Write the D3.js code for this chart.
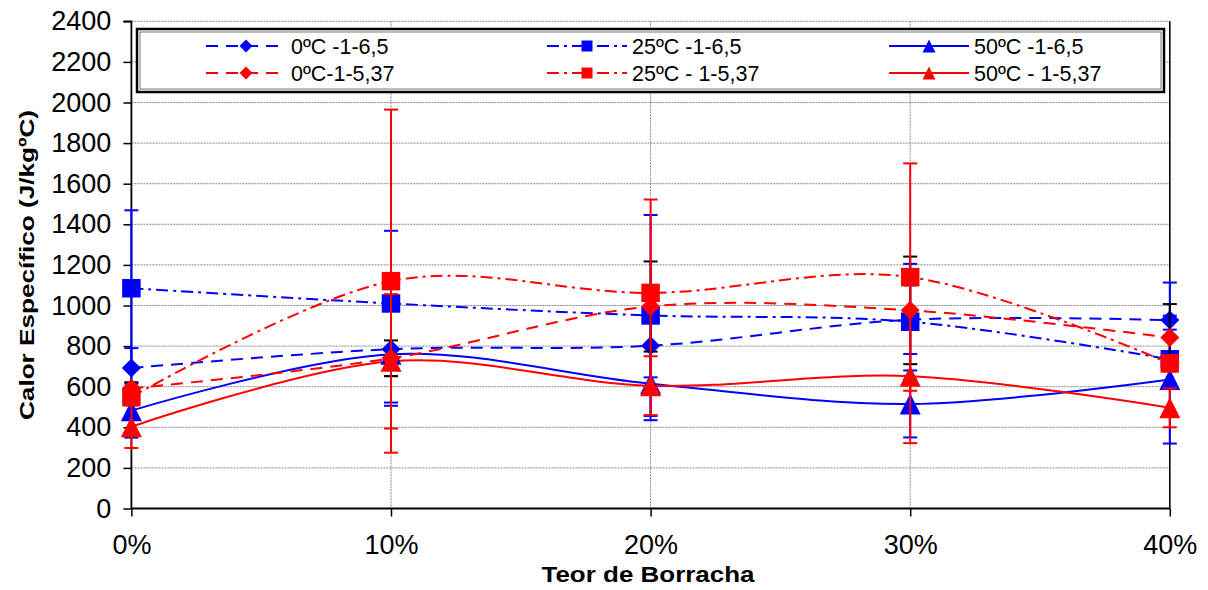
<!DOCTYPE html>
<html>
<head>
<meta charset="utf-8">
<script src="https://cdn.jsdelivr.net/npm/d3@7"></script>
<style>
  html, body { margin: 0; padding: 0; background: #fff; }
  svg { display: block; font-family: "Liberation Sans", Arial, sans-serif; }
</style>
</head>
<body>
<svg id="chart" width="1208" height="590"></svg>
<script>
// Rubber content (x axis) and tick labels
const categories = ["0%", "10%", "20%", "30%", "40%"];
const rubberContent = [0, 10, 20, 30, 40];
const yTickValues = [0, 200, 400, 600, 800, 1000, 1200, 1400, 1600, 1800, 2000, 2200, 2400];

// Specific heat (J/kgºC), mean values per series
const cp_0C_65   = [692, 785, 802, 930, 928];
const cp_25C_65  = [1085, 1010, 951, 920, 735];
const cp_50C_65  = [482, 760, 615, 515, 635];
const cp_0C_537  = [592, 740, 995, 976, 842];
const cp_25C_537 = [549, 1120, 1062, 1140, 715];
const cp_50C_537 = [403, 725, 605, 652, 496];

// Error bar half-lengths (±) per series
const err_0C_65   = [98, 263, 156, 169, 185];
const err_25C_65  = [384, 358, 495, 285, 146];
const err_50C_65  = [133, 254, 180, 165, 315];
const err_0C_537  = [30, 88, 222, 265, 165];
const err_25C_537 = [40, 845, 460, 560, 40];
const err_50C_537 = [105, 331, 145, 330, 96];

const seriesNames = ["0ºC -1-6,5", "25ºC -1-6,5", "50ºC -1-6,5", "0ºC-1-5,37", "25ºC - 1-5,37", "50ºC - 1-5,37"];

const BLUE = "#0000ff", RED = "#ff0000";
const series = [
  { name: seriesNames[0], values: cp_0C_65,   err: err_0C_65,   color: BLUE, dash: "12,8",     marker: "diamond",  errColor: BLUE },
  { name: seriesNames[1], values: cp_25C_65,  err: err_25C_65,  color: BLUE, dash: "12,5,3,5", marker: "square",   errColor: BLUE },
  { name: seriesNames[2], values: cp_50C_65,  err: err_50C_65,  color: BLUE, dash: null,       marker: "triangle", errColor: BLUE },
  { name: seriesNames[3], values: cp_0C_537,  err: err_0C_537,  color: RED,  dash: "12,8",     marker: "diamond",  errColor: "#000000" },
  { name: seriesNames[4], values: cp_25C_537, err: err_25C_537, color: RED,  dash: "12,5,3,5", marker: "square",   errColor: RED },
  { name: seriesNames[5], values: cp_50C_537, err: err_50C_537, color: RED,  dash: null,       marker: "triangle", errColor: RED }
];

const svg = d3.select("#chart");
const plot = { left: 131.4, right: 1169.8, top: 21.3, bottom: 508.5 };

const x = d3.scaleLinear().domain([0, 40]).range([plot.left, plot.right]);
const y = d3.scaleLinear().domain([0, 2400]).range([plot.bottom, plot.top]);

// Gridlines (dotted grey)
const grid = svg.append("g");
grid.selectAll("line.h").data(yTickValues.filter(v => v > 0)).join("line")
  .attr("x1", plot.left).attr("x2", plot.right)
  .attr("y1", d => y(d)).attr("y2", d => y(d))
  .attr("stroke", "#888").attr("stroke-width", 1).attr("stroke-dasharray", "2,1");
grid.selectAll("line.v").data(rubberContent.filter(v => v > 0)).join("line")
  .attr("x1", d => x(d)).attr("x2", d => x(d))
  .attr("y1", plot.top).attr("y2", plot.bottom)
  .attr("stroke", "#888").attr("stroke-width", 1).attr("stroke-dasharray", "2,1");

// Axes
const yAxis = d3.axisLeft(y).tickValues(yTickValues).tickSize(8).tickPadding(12).tickFormat(d3.format("d"));
const gy = svg.append("g").attr("transform", `translate(${plot.left},0)`).call(yAxis);
gy.select(".domain").attr("stroke", "#000").attr("stroke-width", 1.8).attr("d", `M-8,${plot.top}H0V${plot.bottom}`);
gy.selectAll(".tick line").attr("stroke", "#000").attr("stroke-width", 1.5);
gy.selectAll(".tick text").attr("font-size", 27).attr("fill", "#000")
  .attr("font-family", "'Liberation Sans', Arial, sans-serif");

const xAxis = d3.axisBottom(x).tickValues(rubberContent).tickSize(8).tickPadding(18)
  .tickFormat((d, i) => categories[i]);
const gx = svg.append("g").attr("transform", `translate(0,${plot.bottom})`).call(xAxis);
gx.select(".domain").attr("stroke", "#000").attr("stroke-width", 1.8).attr("d", `M${plot.left},0H${plot.right}`);
gx.selectAll(".tick line").attr("stroke", "#000").attr("stroke-width", 1.5);
gx.selectAll(".tick text").attr("font-size", 27).attr("fill", "#000")
  .attr("font-family", "'Liberation Sans', Arial, sans-serif");

// Right border of plot area
svg.append("line").attr("x1", plot.right).attr("x2", plot.right)
  .attr("y1", plot.top).attr("y2", plot.bottom).attr("stroke", "#000").attr("stroke-width", 1.5);

// Axis titles (glyphs widened along the baseline)
svg.append("text").attr("x", 648).attr("y", 582).attr("text-anchor", "middle")
  .attr("font-size", 22).attr("font-weight", "bold")
  .attr("textLength", 213).attr("lengthAdjust", "spacingAndGlyphs").text("Teor de Borracha");
svg.append("text").attr("transform", "translate(34,265) rotate(-90)").attr("text-anchor", "middle")
  .attr("font-size", 21).attr("font-weight", "bold")
  .attr("textLength", 310).attr("lengthAdjust", "spacingAndGlyphs").text("Calor Específico (J/kgºC)");

// Marker shapes
function markerPath(type, size) {
  const h = size / 2;
  if (type === "diamond") return `M0,${-h}L${h},0L0,${h}L${-h},0Z`;
  if (type === "square") return `M${-h},${-h}H${h}V${h}H${-h}Z`;
  return `M0,${-h}L${h},${h}H${-h}Z`;
}
const markerSize = { diamond: 19, square: 18.5, triangle: 21 };

const line = d3.line().x((d, i) => x(rubberContent[i])).y(d => y(d)).curve(d3.curveCardinal.tension(0));

// Series lines
series.forEach(s => {
  svg.append("path").datum(s.values).attr("d", line)
    .attr("fill", "none").attr("stroke", s.color).attr("stroke-width", 2)
    .attr("stroke-dasharray", s.dash);
});

// Error bars and markers, series by series
series.forEach(s => {
  const g = svg.append("g");
  s.values.forEach((v, i) => {
    const cx = x(rubberContent[i]);
    const lo = y(v - s.err[i]), hi = y(v + s.err[i]);
    g.append("line").attr("x1", cx).attr("x2", cx).attr("y1", lo).attr("y2", hi)
      .attr("stroke", s.errColor).attr("stroke-width", 2);
    [lo, hi].forEach(yy => g.append("line").attr("x1", cx - 7).attr("x2", cx + 7)
      .attr("y1", yy).attr("y2", yy).attr("stroke", s.errColor).attr("stroke-width", 2));
  });
  g.selectAll("path.m").data(s.values).join("path")
    .attr("transform", (d, i) => `translate(${x(rubberContent[i])},${y(d)})`)
    .attr("d", markerPath(s.marker, markerSize[s.marker]))
    .attr("fill", s.color);
});

// Legend
const legend = svg.append("g");
legend.append("rect").attr("x", 137).attr("y", 29).attr("width", 1027).attr("height", 63)
  .attr("fill", "#fff").attr("stroke", "#000").attr("stroke-width", 2.5);
legend.append("rect").attr("x", 140).attr("y", 32).attr("width", 1021).attr("height", 57)
  .attr("fill", "none").attr("stroke", "#555").attr("stroke-width", 0.8);
const colX = [246, 587, 929];
const rowY = [46, 73];
const legendMarkerSize = { diamond: 13, square: 11, triangle: 13 };
series.forEach((s, i) => {
  const cx = colX[i % 3], cy = rowY[Math.floor(i / 3)];
  legend.append("line").attr("x1", cx - 40).attr("x2", cx + 40).attr("y1", cy).attr("y2", cy)
    .attr("stroke", s.color).attr("stroke-width", 2).attr("stroke-dasharray", s.dash);
  legend.append("path").attr("transform", `translate(${cx},${cy})`)
    .attr("d", markerPath(s.marker, legendMarkerSize[s.marker])).attr("fill", s.color);
  legend.append("text").attr("x", cx + 45).attr("y", cy + 7.5).attr("font-size", 21.5).text(s.name);
});
</script>
</body>
</html>
